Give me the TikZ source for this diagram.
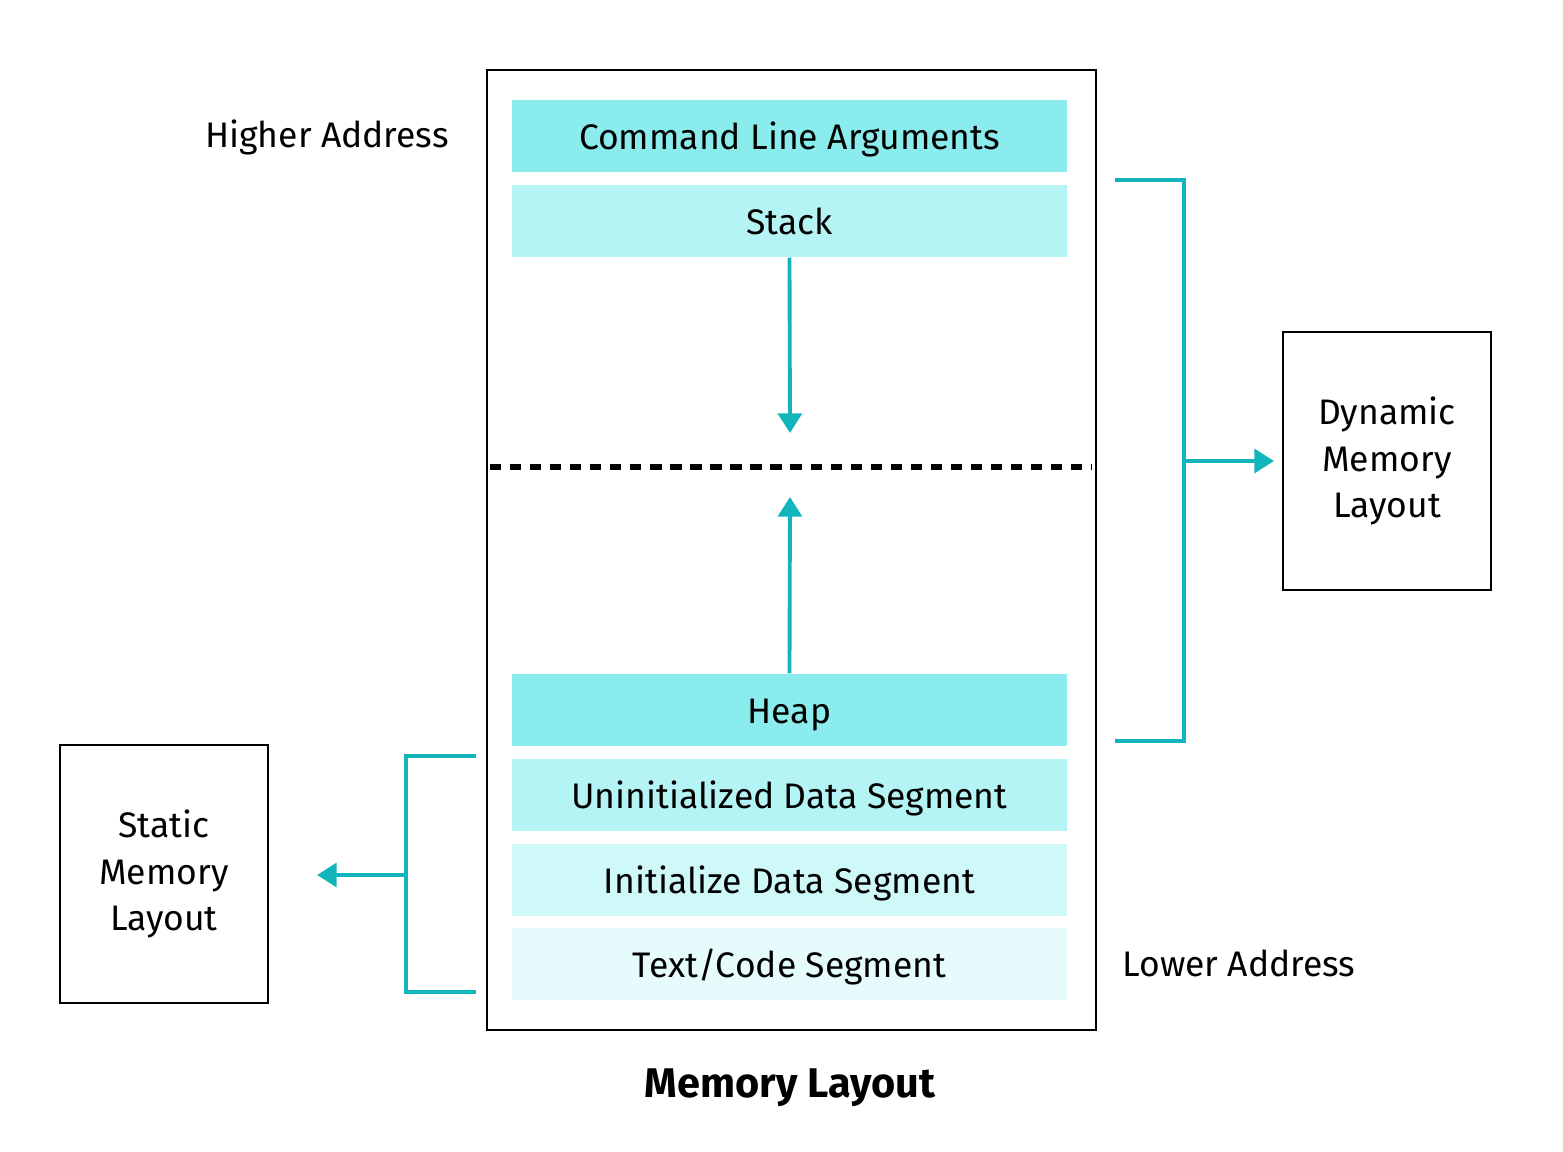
\documentclass[tikz,border=0pt]{standalone}
\usepackage{fontspec}
\setmainfont{Fira Sans}
\usepackage{tikz}
\usetikzlibrary{positioning, arrows, arrows.meta}
\definecolor{teal1}{HTML}{12B5BB}
\definecolor{band1}{HTML}{8AECEC}
\definecolor{band2}{HTML}{B5F4F4}
\definecolor{band3}{HTML}{CFF8F8}
\definecolor{band4}{HTML}{E6FCFC}
\tikzset{
  band/.style={fill=#1, draw=none, minimum width=5.55cm, minimum height=0.72cm, inner sep=0pt, text height=1em, text depth=0.25em, font=\fontsize{10.1}{12}\selectfont},
  sidebox/.style={draw=black, line width=0.6pt, minimum width=2.08cm, minimum height=2.58cm, align=center, font=\fontsize{10.1}{13.2}\selectfont},
  tealline/.style={draw=teal1, line width=1.1pt},
  tealarrow/.style={tealline, -{Triangle[length=5.6pt, width=6.8pt]}}
}
\begin{document}
\begin{tikzpicture}
\useasboundingbox (0,0) rectangle (15.63,-11.52);
% outer frame
\draw[line width=0.6pt] (4.87,-0.70) rectangle (10.96,-10.30);
% memory segments
\node[band=band1] (cla) at (7.895,-1.36) {Command Line Arguments};
\node[band=band2] (stack) at (7.895,-2.21) {Stack};
\node[band=band1] (heap) at (7.895,-7.10) {Heap};
\node[band=band2] (uninit) at (7.895,-7.95) {Uninitialized Data Segment};
\node[band=band3] (initd) at (7.895,-8.80) {Initialize Data Segment};
\node[band=band4] (textseg) at (7.895,-9.64) {Text/Code Segment};
% growth arrows
\coordinate (stackend) at (7.90,-4.33);
\coordinate (heapend) at (7.90,-4.97);
\draw[tealarrow] (stack.south) -- (stackend);
\draw[tealarrow] (heap.north) -- (heapend);
\draw[line width=1.7pt, dash pattern=on 3.2pt off 2.5pt] (4.90,-4.67) -- (10.92,-4.67);
% address labels
\node[font=\fontsize{10.1}{12}\selectfont] (high) at (3.27,-1.37) {Higher Address};
\node[font=\fontsize{10.1}{12}\selectfont] (low) at (12.39,-9.63) {Lower Address};
% side boxes
\node[sidebox] (dyn) at (13.87,-4.61) {Dynamic\\Memory\\Layout};
\node[sidebox] (stat) at (1.64,-8.74) {Static\\Memory\\Layout};
% brackets
\draw[tealline] (11.15,-1.80) -- (11.84,-1.80) -- (11.84,-7.41) -- (11.15,-7.41);
\coordinate (dynfork) at (11.84,-4.61);
\draw[tealarrow, shorten >=0.08cm] (dynfork) -- (dyn.west);
\draw[tealline] (4.76,-7.56) -- (4.06,-7.56) -- (4.06,-9.92) -- (4.76,-9.92);
\coordinate (statfork) at (4.06,-8.75);
\draw[tealarrow, shorten >=0.48cm] (statfork) -- (stat.east |- statfork);
% caption
\node[font=\fontsize{11.8}{14}\selectfont\bfseries] (title) at (7.90,-10.88) {Memory Layout};
\end{tikzpicture}
\end{document}
